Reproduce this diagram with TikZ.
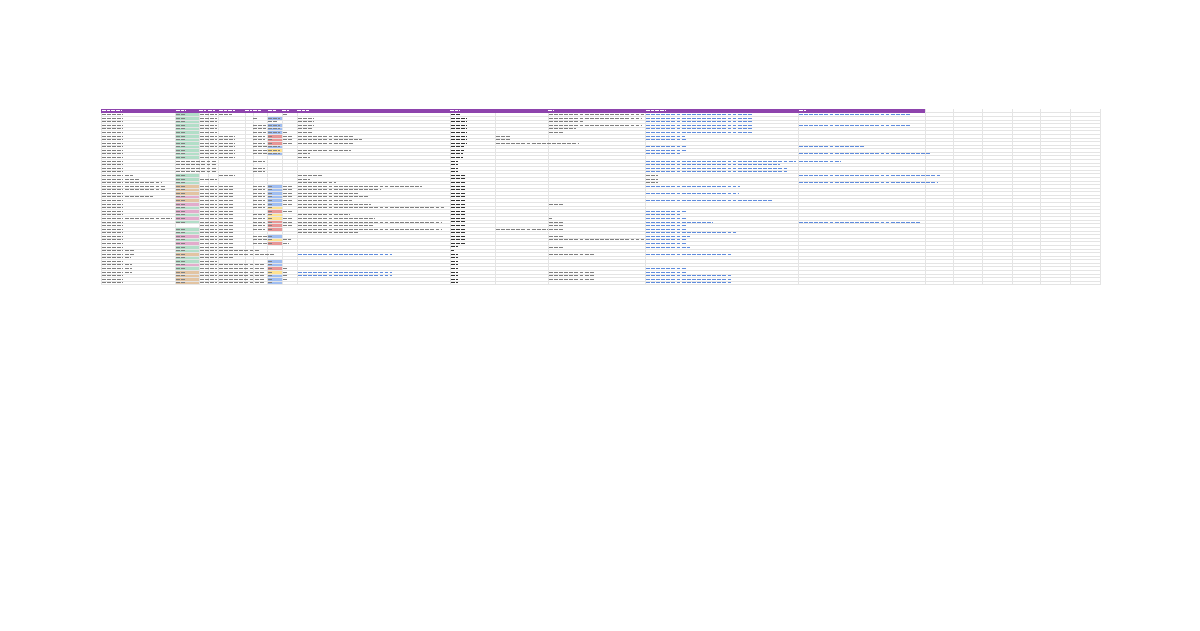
\documentclass[tikz,border=0pt]{standalone}
\usepackage{tikz}
\definecolor{hdr}{RGB}{142,68,173}
\definecolor{cgreen}{RGB}{178,222,200}
\definecolor{ctan}{RGB}{226,196,162}
\definecolor{cpink}{RGB}{226,172,204}
\definecolor{cblue}{RGB}{160,190,242}
\definecolor{cred}{RGB}{232,150,150}
\definecolor{cyellow}{RGB}{255,226,145}
\definecolor{link}{RGB}{95,140,222}
\definecolor{gridc}{RGB}{228,228,228}
\begin{document}
\begin{tikzpicture}[x=0.02cm,y=-0.02cm,
  txt/.style={line width=0.45pt,dash pattern=on 2.2pt off 0.7pt,black!50},
  bold/.style={line width=0.55pt,dash pattern=on 2.2pt off 0.7pt,black!80},
  lnk/.style={line width=0.45pt,dash pattern=on 2.2pt off 0.7pt,link},
  hd/.style={line width=0.45pt,dash pattern=on 2pt off 0.7pt,white}]
\useasboundingbox[fill=white] (0,0) rectangle (1200,630);

\foreach \r/\c in {0/cgreen,1/cgreen,2/cgreen,3/cgreen,4/cgreen,5/cgreen,6/cgreen,7/cgreen,8/cgreen,9/cgreen,10/cgreen,11/cgreen,12/cgreen,
  17/cgreen,18/cgreen,19/cgreen,20/ctan,21/ctan,22/ctan,23/cpink,24/ctan,25/cpink,26/cgreen,27/cpink,28/cgreen,29/cpink,30/cgreen,
  32/cgreen,33/cgreen,34/cpink,35/cgreen,36/cpink,37/cgreen,38/cgreen,39/ctan,40/cgreen,41/cgreen,42/cpink,43/cgreen,44/ctan,45/ctan,46/ctan,47/ctan}
  \fill[\c] (175,{112.7+3.58*\r}) rectangle (199,{112.7+3.58*(\r+1)});
\foreach \r/\c in {1/cblue,3/cblue,4/cblue,5/cblue,6/cred,7/cred,8/cred,9/cblue,10/cyellow,11/cblue,
  20/cblue,21/cblue,22/cblue,23/cblue,24/cblue,25/cblue,26/cyellow,27/cred,28/cyellow,29/cyellow,30/cred,31/cred,32/cred,
  34/cblue,35/cyellow,36/cred,41/cblue,42/cblue,43/cred,44/cyellow,45/cblue,46/cblue,47/cblue}
  \fill[\c] (267,{112.7+3.58*\r}) rectangle (282,{112.7+3.58*(\r+1)});

\foreach \r in {0,...,48}
  \draw[gridc,line width=0.25pt] (101,{112.7+3.58*\r}) -- (1100,{112.7+3.58*\r});
\foreach \x in {101,175,199,208,218,245,253,267,282,297,450,495,548,645,798,925,953,982,1012,1040,1070,1100}
  \draw[gridc,line width=0.25pt] (\x,109) -- (\x,284.5);

\fill[hdr] (101,109) rectangle (925,112.7);
\foreach \x/\l in {102/20,176/10,199/7,208/7,219/16,245/7,253/9,268/8,282/7,297/12,450/10,548/6,646/20,799/7}
  \draw[hd] (\x,110.85) -- ++(\l,0);

\foreach \r in {0,...,47}
  \draw[txt] (102,{114.5+3.58*\r}) -- ++(21,0);
\foreach \r/\l in {17/8,18/14,19/37,20/40,21/40,23/28,29/47,38/10,39/10,40/6,42/7,43/7,44/7}
  \draw[txt] (125,{114.5+3.58*\r}) -- ++(\l,0);

\foreach \r in {0,...,12,17,18,19,20,21,22,23,24,25,26,27,28,29,30,32,33,34,35,36,37,38,39,40,41,42,43,44,45,46,47}
  \draw[txt] (176,{114.5+3.58*\r}) -- ++(9,0);
\foreach \r in {13,...,16}
  \draw[txt] (176,{114.5+3.58*\r}) -- ++(40,0);
\foreach \r in {0,...,12,18,20,21,22,23,24,25,26,27,28,29,30,31,32,33,34,35,36,37,38,39,40,41,42,43,44,45,46,47}
  \draw[txt] (200,{114.5+3.58*\r}) -- ++(17,0);

\foreach \r/\l in {0/13,6/16,7/16,8/16,9/16,10/16,11/16,12/16,17/16,20/14,21/14,22/14,23/14,24/14,25/14,26/14,27/14,28/14,
  29/14,30/14,31/14,32/14,33/14,34/14,35/14,36/14,37/14,38/40,39/55,40/14,42/45,43/45,44/45,45/45,46/45,47/45}
  \draw[txt] (219,{114.5+3.58*\r}) -- ++(\l,0);
\foreach \r/\l in {1/5,3/13,4/13,5/13,6/12,7/12,8/12,9/14,10/14,11/14,13/12,15/12,16/12,20/12,21/12,22/12,23/12,24/12,
  25/12,26/12,28/12,29/12,30/12,31/12,32/12,34/14,35/14,36/14}
  \draw[txt] (253,{114.5+3.58*\r}) -- ++(\l,0);
\foreach \r/\l in {1/12,2/10,3/12,4/12,5/12,6/4,7/4,8/4,9/12,10/12,11/12,20/4,21/4,22/4,23/4,24/4,25/4,26/4,27/4,28/4,29/4,
  30/4,31/4,32/4,34/4,35/4,36/4,41/4,42/4,43/4,44/4,45/4,46/4,47/4}
  \draw[txt] (268,{114.5+3.58*\r}) -- ++(\l,0);
\foreach \r/\l in {0/4,5/4,6/10,7/10,8/10,20/10,21/10,22/10,23/10,24/10,25/10,27/10,29/10,30/10,31/10,35/8,36/6,43/5,44/5,45/5,46/5}
  \draw[txt] (283,{114.5+3.58*\r}) -- ++(\l,0);

\foreach \r/\l in {1/16,2/16,3/16,4/14,5/14,6/56,7/64,8/56,10/53,11/12,12/12,17/24,18/12,19/38,20/124,21/83,22/61,23/71,
  24/54,25/73,26/146,28/51,29/77,30/144,31/76,32/144,33/60}
  \draw[txt] (298,{114.5+3.58*\r}) -- ++(\l,0);
\foreach \r in {39,44,45}
  \draw[lnk] (298,{114.5+3.58*\r}) -- ++(94,0);

\foreach \r/\l in {0/10,1/16,2/16,3/16,4/16,5/16,6/16,7/16,8/16,9/13,10/13,11/12,12/12,13/7,14/7,15/7,16/7,17/14,18/14,19/14,
  20/14,21/14,22/14,23/14,24/14,25/14,26/14,27/15,28/14,29/14,30/14,31/14,32/14,33/15,34/15,35/15,36/15,37/7,38/3,
  39/7,40/7,41/7,42/7,43/7,44/7,45/7,46/7,47/7}
  \draw[bold] (451,{114.5+3.58*\r}) -- ++(\l,0);

\foreach \r/\l in {6/15,7/15,8/82,32/51}
  \draw[txt] (496,{114.5+3.58*\r}) -- ++(\l,0);
\foreach \r/\l in {0/95,1/92,2/35,3/92,4/27,5/15,25/15,29/3,30/15,31/15,32/15,34/15,35/95,37/15,39/45,44/45,45/45,46/45}
  \draw[txt] (549,{114.5+3.58*\r}) -- ++(\l,0);

\foreach \r/\l in {0/106,1/106,2/106,3/106,4/106,5/106,6/39,7/40,9/40,10/40,11/34,13/150,14/134,15/142,16/142,20/94,22/92,
  24/127,27/40,28/34,29/40,30/67,31/40,32/40,33/91,34/44,35/40,36/40,37/44,39/86,43/40,44/40,45/86,46/86,47/86}
  \draw[lnk] (646,{114.5+3.58*\r}) -- ++(\l,0);
\foreach \r in {17,18,19}
  \draw[txt] (646,{114.5+3.58*\r}) -- ++(12,0);
\foreach \r/\l in {0/111,3/111,9/66,11/132,13/41,17/142,19/139,30/122}
  \draw[lnk] (799,{114.5+3.58*\r}) -- ++(\l,0);
\end{tikzpicture}
\end{document}
